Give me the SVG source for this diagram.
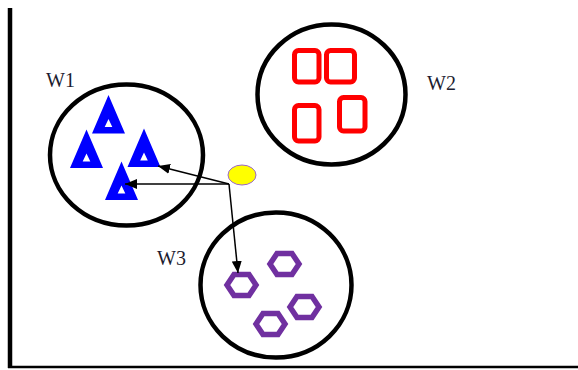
<svg xmlns="http://www.w3.org/2000/svg" width="578" height="370" viewBox="0 0 578 370">
<style>
.cl{fill:none;stroke:#000;stroke-width:4.5}
.lbl{font-family:"Liberation Serif","Times New Roman",serif;font-size:20px;fill:#1c1c30}
.tri{fill:#0000ff;fill-rule:evenodd}
.sq{fill:none;stroke:#ff0000;stroke-width:5}
.hex{fill:none;stroke:#7030a0;stroke-width:5.5;stroke-linejoin:miter}
.con{fill:none;stroke:#000;stroke-width:1.5}
</style>
<defs>
<path id="triShape" d="M0,0 L16.5,38.5 L-16.5,38.5 Z M0,24 L-3.8,32 L3.8,32 Z"/>
<path id="hexShape" d="M-14.5,0 L-7.5,-10.5 L7.5,-10.5 L14.5,0 L7.5,10.5 L-7.5,10.5 Z"/>
<marker id="ah" markerWidth="12" markerHeight="10" refX="12" refY="5" orient="auto" markerUnits="userSpaceOnUse">
<path d="M0,0 L12,5 L0,10 Z" fill="#000"/>
</marker>
</defs>
<g id="axes">
<line x1="10" y1="8" x2="10" y2="368" stroke="#000" stroke-width="4.5"/>
<line x1="8" y1="367" x2="578" y2="367" stroke="#000" stroke-width="2.5"/>
</g>
<g id="W1">
<ellipse class="cl" cx="126.5" cy="155" rx="76.5" ry="70.5"/>
<text class="lbl" x="46" y="87">W1</text>
<use href="#triShape" class="tri" x="108.5" y="95"/>
<use href="#triShape" class="tri" x="86.5" y="129.5"/>
<use href="#triShape" class="tri" x="144" y="128.5"/>
<use href="#triShape" class="tri" x="121.5" y="161.5"/>
</g>
<g id="W2">
<ellipse class="cl" cx="331.5" cy="94.5" rx="74" ry="70"/>
<text class="lbl" x="427" y="90">W2</text>
<rect class="sq" x="294.5" y="50.5" width="24.5" height="31.5" rx="4"/>
<rect class="sq" x="326.5" y="50.5" width="28" height="31.5" rx="4"/>
<rect class="sq" x="294.5" y="105.5" width="24.5" height="35.5" rx="4"/>
<rect class="sq" x="339.5" y="97.5" width="25.5" height="33.5" rx="4"/>
</g>
<g id="W3">
<ellipse class="cl" cx="276" cy="285" rx="75.5" ry="72.5"/>
<text class="lbl" x="157" y="265">W3</text>
<use href="#hexShape" class="hex" x="241.5" y="285"/>
<use href="#hexShape" class="hex" x="284.5" y="264"/>
<use href="#hexShape" class="hex" x="304.5" y="307"/>
<use href="#hexShape" class="hex" x="270.5" y="324"/>
</g>
<g id="point">
<ellipse cx="242" cy="175" rx="14" ry="10" fill="#ffff00" stroke="#9966cc" stroke-width="1"/>
</g>
<g id="connectors">
<line class="con" x1="229" y1="184" x2="125" y2="184" marker-end="url(#ah)"/>
<line class="con" x1="229" y1="184" x2="158" y2="166" marker-end="url(#ah)"/>
<line class="con" x1="229" y1="184" x2="238" y2="273" marker-end="url(#ah)"/>
</g>
</svg>
